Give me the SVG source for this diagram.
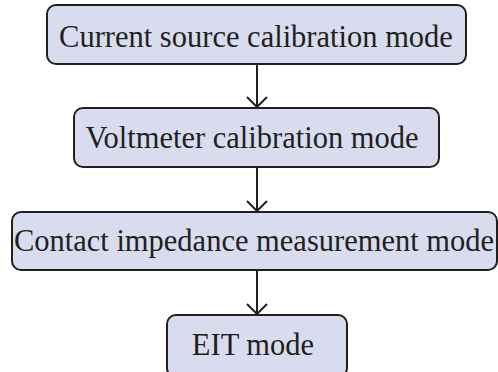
<svg xmlns="http://www.w3.org/2000/svg" width="498" height="372" viewBox="0 0 498 372">
<defs>
<style>
.box{fill:#d9dcee;stroke:#231f20;stroke-width:2}
.lbl{font-family:"Liberation Serif","Times New Roman",serif;font-size:30.5px;fill:#231f20;text-anchor:middle}
.conn{stroke:#231f20;stroke-width:2;fill:none}
</style>
<marker id="arr" viewBox="0 0 12 22" refX="11" refY="11" markerWidth="12" markerHeight="22" markerUnits="userSpaceOnUse" orient="auto">
<path d="M1,1 L11,11 L1,21" fill="none" stroke="#231f20" stroke-width="2"/>
</marker>
</defs>
<rect width="498" height="372" fill="#ffffff"/>
<g id="connectors">
<path class="conn" d="M257,64 V107" marker-end="url(#arr)"/>
<path class="conn" d="M257,167 V211" marker-end="url(#arr)"/>
<path class="conn" d="M257,270 V314" marker-end="url(#arr)"/>
</g>
<g id="node1">
<rect class="box" x="47" y="5" width="419" height="59" rx="9"/>
<text class="lbl" x="256" y="47">Current source calibration mode</text>
</g>
<g id="node2">
<rect class="box" x="74" y="108" width="365" height="59" rx="9"/>
<text class="lbl" x="252" y="148">Voltmeter calibration mode</text>
</g>
<g id="node3">
<rect class="box" x="12" y="212" width="485" height="58" rx="9"/>
<text class="lbl" x="254" y="251">Contact impedance measurement mode</text>
</g>
<g id="node4">
<rect class="box" x="167" y="315" width="180" height="62" rx="9"/>
<text class="lbl" x="253" y="355">EIT mode</text>
</g>
</svg>
